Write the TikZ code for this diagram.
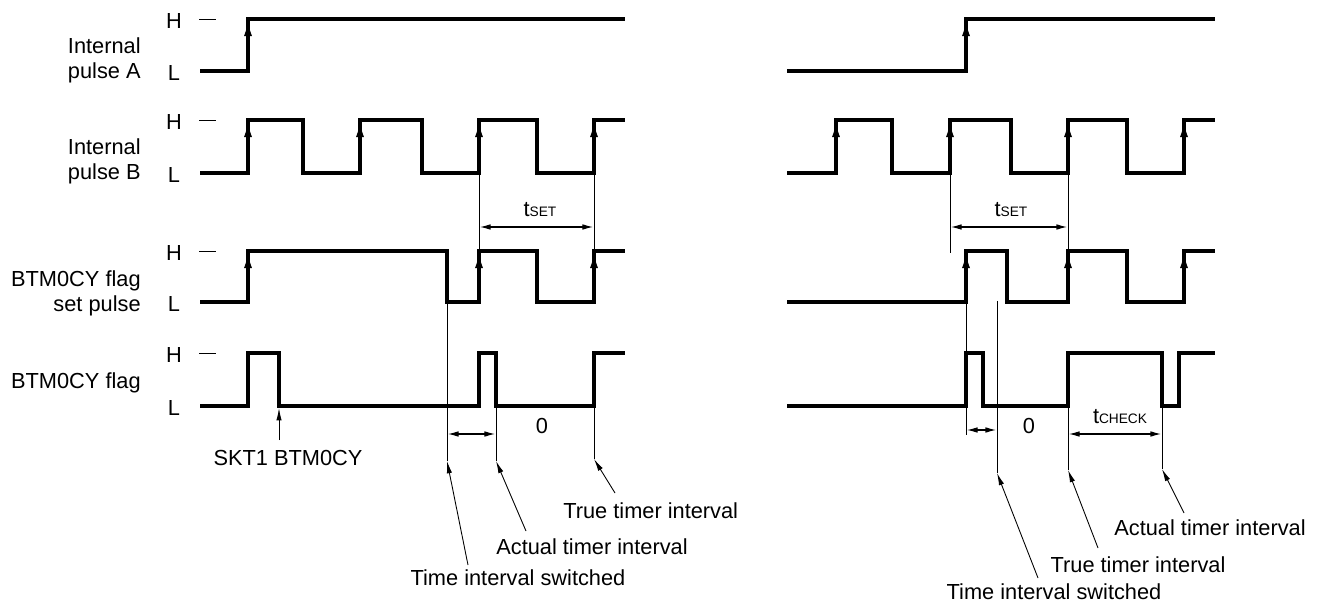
\documentclass[tikz,border=0pt]{standalone}
\usepackage{fontspec}
\setmainfont{Liberation Sans}
\usetikzlibrary{arrows.meta}
\newcommand{\subtext}[1]{{\fontsize{7.8}{9}\selectfont #1}}

\begin{document}
\begin{tikzpicture}[
    x=0.02cm, y=-0.02cm,
    sigline/.style={line width=1.8pt, line join=miter},
    edgearrow/.style={line width=0.6pt, -{Latex[length=8pt,width=4.6pt]}},
    guide/.style={line width=0.5pt},
    dimarrow/.style={line width=0.6pt,
        {Latex[length=6pt,width=3.2pt]}-{Latex[length=6pt,width=3.2pt]}},
    callout/.style={line width=0.5pt, -{Latex[length=7pt,width=3pt]}},
    rowlabel/.style={font=\fontsize{12.4}{14.2}\selectfont, align=right,
        anchor=east, inner sep=0pt},
    levellabel/.style={font=\fontsize{12.4}{14}\selectfont, inner sep=0pt},
    notelabel/.style={font=\fontsize{12.4}{14}\selectfont, inner sep=0pt}
]
\useasboundingbox (0,0) rectangle (1321,604);

% Row labels
\node[rowlabel] (lbl_a) at (141,60) {Internal\\pulse A};
\node[rowlabel] (lbl_b) at (141,161) {Internal\\pulse B};
\node[rowlabel] (lbl_c) at (141,293) {BTM0CY flag\\set pulse};
\node[rowlabel] (lbl_d) at (141,383) {BTM0CY flag};

% Level labels and ticks
\node[levellabel] (h_a) at (174,21) {H};
\node[levellabel] (l_a) at (174,73) {L};
\node[levellabel] (h_b) at (174,122) {H};
\node[levellabel] (l_b) at (174,175) {L};
\node[levellabel] (h_c) at (174,253) {H};
\node[levellabel] (l_c) at (174,304) {L};
\node[levellabel] (h_d) at (174,355) {H};
\node[levellabel] (l_d) at (174,408) {L};
\draw[guide] (199,19) -- (216,19);
\draw[guide] (199,120) -- (216,120);
\draw[guide] (199,251) -- (216,251);
\draw[guide] (199,353) -- (216,353);

% Left waveforms
\draw[sigline] (200,71) -| (248,19) -- (625,19);
\draw[sigline] (200,173) -| (248,120) -| (303,173) -| (360,120) -| (422,173)
    -| (479,120) -| (537,173) -| (594,120) -- (625,120);
\draw[sigline] (200,302) -| (248,251) -| (447,302) -| (479,251) -| (537,302)
    -| (594,251) -- (625,251);
\draw[sigline] (200,406) -| (248,353) -| (279,406) -| (479,353) -| (496,406)
    -| (594,353) -- (625,353);

% Right waveforms
\draw[sigline] (787,71) -| (966,19) -- (1215,19);
\draw[sigline] (787,173) -| (836,120) -| (892,173) -| (950,120) -| (1011,173)
    -| (1068,120) -| (1127,173) -| (1184,120) -- (1215,120);
\draw[sigline] (787,302) -| (966,251) -| (1007,302) -| (1068,251) -| (1127,302)
    -| (1184,251) -- (1215,251);
\draw[sigline] (787,406) -| (966,353) -| (983,406) -| (1068,353) -| (1162,406)
    -| (1179,353) -- (1215,353);

% Rising edge arrows
\draw[edgearrow] (248,60) -- (248,22);
\draw[edgearrow] (248,160) -- (248,123);
\draw[edgearrow] (360,160) -- (360,123);
\draw[edgearrow] (479,160) -- (479,123);
\draw[edgearrow] (594,160) -- (594,123);
\draw[edgearrow] (248,290) -- (248,254);
\draw[edgearrow] (479,290) -- (479,254);
\draw[edgearrow] (594,290) -- (594,254);
\draw[edgearrow] (966,60) -- (966,22);
\draw[edgearrow] (836,160) -- (836,123);
\draw[edgearrow] (950,160) -- (950,123);
\draw[edgearrow] (1068,160) -- (1068,123);
\draw[edgearrow] (1184,160) -- (1184,123);
\draw[edgearrow] (966,290) -- (966,254);
\draw[edgearrow] (1068,290) -- (1068,254);
\draw[edgearrow] (1184,290) -- (1184,254);

% Left guides and dimensions
\draw[guide] (479,173) -- (479,251);
\draw[guide] (594,173) -- (594,251);
\draw[dimarrow] (480,227) -- (593,227);
\node[notelabel] (tset_l) at (540,210) {t\subtext{SET}};
\coordinate (sw_l_end) at (447,461);
\coordinate (act_l_end) at (496,461);
\coordinate (true_l_end) at (594,459);
\draw[guide] (447,302) -- (sw_l_end);
\draw[guide] (496,406) -- (act_l_end);
\draw[guide] (594,406) -- (true_l_end);
\draw[dimarrow] (448,434) -- (495,434);
\node[notelabel] (zero_l) at (542,426) {0};

% Right guides and dimensions
\draw[guide] (950,173) -- (950,253);
\draw[guide] (1068,173) -- (1068,251);
\draw[dimarrow] (951,227) -- (1067,227);
\node[notelabel] (tset_r) at (1011,210) {t\subtext{SET}};
\coordinate (sw_r_end) at (997,473);
\coordinate (true_r_end) at (1068,470);
\coordinate (act_r_end) at (1162,469);
\draw[guide] (966,302) -- (966,435);
\draw[guide] (997,301) -- (sw_r_end);
\draw[guide] (1068,406) -- (true_r_end);
\draw[guide] (1162,406) -- (act_r_end);
\draw[dimarrow] (967,430) -- (996,430);
\node[notelabel] (zero_r) at (1029,426) {0};
\draw[dimarrow] (1069,434) -- (1161,434);
\node[notelabel] (tcheck) at (1120,417) {t\subtext{CHECK}};

% Callouts left
\node[notelabel] (skt) at (288,458) {SKT1 BTM0CY};
\coordinate (skt_end) at (279,408);
\draw[callout] (279,440) -- (skt_end);
\node[notelabel] (sw_l) at (518,578) {Time interval switched};
\node[notelabel, anchor=west] (act_l) at (496,547) {Actual timer interval};
\node[notelabel, anchor=west] (true_l) at (563,511) {True timer interval};
\coordinate (sw_l_tail) at (468,565);
\coordinate (act_l_tail) at (526,531);
\coordinate (true_l_tail) at (615,493);
\draw[callout] (sw_l_tail) -- (sw_l_end);
\draw[callout] (act_l_tail) -- (act_l_end);
\draw[callout] (true_l_tail) -- (true_l_end);

% Callouts right
\node[notelabel] (sw_r) at (1054,592) {Time interval switched};
\node[notelabel] (true_r) at (1138,565) {True timer interval};
\node[notelabel] (act_r) at (1210,528) {Actual timer interval};
\coordinate (sw_r_tail) at (1038,578);
\coordinate (true_r_tail) at (1098,548);
\coordinate (act_r_tail) at (1184,513);
\draw[callout] (sw_r_tail) -- (sw_r_end);
\draw[callout] (true_r_tail) -- (true_r_end);
\draw[callout] (act_r_tail) -- (act_r_end);

\end{tikzpicture}
\end{document}
